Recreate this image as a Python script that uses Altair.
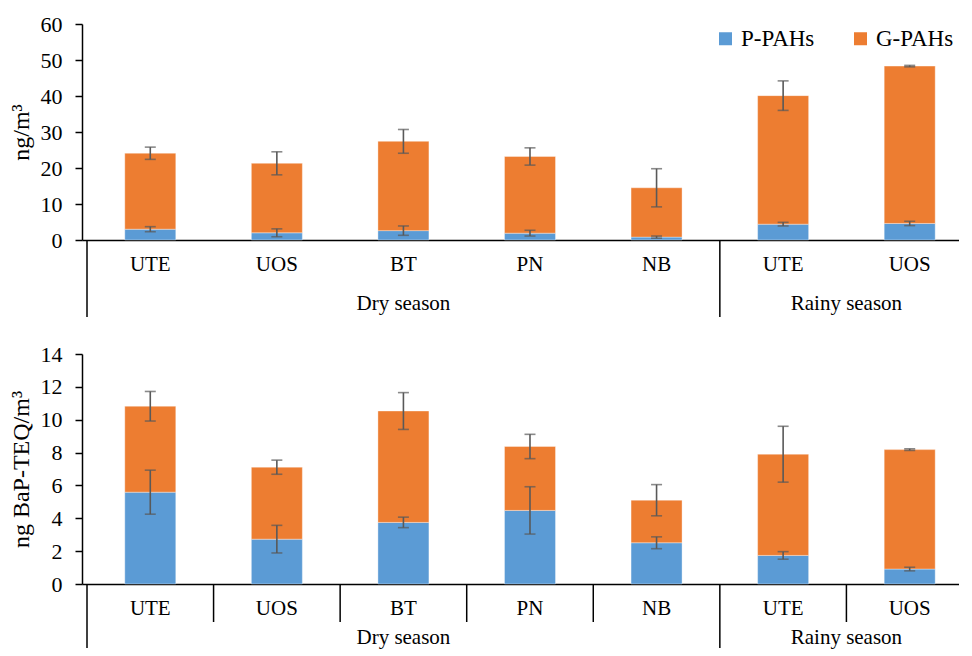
import altair as alt
import pandas as pd

# ---------------- data ----------------
sites = ["UTE", "UOS", "BT", "PN", "NB", "UTE", "UOS"]
season_names = ["Dry season", "Rainy season"]
season_first = [0, 5]      # index of first site in each season
season_count = [5, 2]      # number of sites in each season
series = ["P-PAHs", "G-PAHs"]

# top panel: concentration (ng/m3)
conc_p = [3.0, 2.0, 2.6, 1.9, 0.8, 4.4, 4.6]
conc_g = [21.1, 19.3, 24.8, 21.3, 13.7, 35.7, 43.7]
conc_p_err = [0.7, 1.1, 1.3, 0.8, 0.3, 0.5, 0.6]
conc_g_err = [1.7, 3.2, 3.3, 2.4, 5.3, 4.1, 0.2]

# bottom panel: toxic equivalent (ng BaP-TEQ/m3)
teq_p = [5.59, 2.73, 3.75, 4.48, 2.51, 1.74, 0.91]
teq_g = [5.23, 4.38, 6.78, 3.89, 2.59, 6.16, 7.27]
teq_p_err = [1.34, 0.84, 0.32, 1.44, 0.36, 0.23, 0.11]
teq_g_err = [0.90, 0.43, 1.12, 0.74, 0.95, 1.70, 0.05]

BLUE = "#5B9BD5"
ORANGE = "#ED7D31"
ERR = "#595959"
FONT = "Times New Roman, Liberation Serif, serif"
X_DOMAIN = [0, 6.85]
PLOT_W = 877


def panel(p, g, perr, gerr, ytitle, ymax, ystep, height, legend, inner_sep):
    n = len(sites)
    pos = [i + 0.5 for i in range(n)]
    rows = []
    for i in range(n):
        rows.append({"pos": pos[i], "series": series[0], "y0": 0.0, "y1": p[i]})
        rows.append({"pos": pos[i], "series": series[1], "y0": p[i], "y1": p[i] + g[i]})
    bars_df = pd.DataFrame(rows)

    err_rows = []
    for i in range(n):
        c = p[i]
        err_rows.append({"pos": pos[i], "lo": c - perr[i], "hi": c + perr[i]})
        c = p[i] + g[i]
        err_rows.append({"pos": pos[i], "lo": c - gerr[i], "hi": c + gerr[i]})
    err_df = pd.DataFrame(err_rows)

    site_df = pd.DataFrame({"pos": pos, "site": sites})
    season_df = pd.DataFrame({
        "pos": [f + c / 2 for f, c in zip(season_first, season_count)],
        "season": season_names,
    })
    long_sep = pd.DataFrame({"pos": season_first})
    short_sep = pd.DataFrame({"pos": [i for i in range(1, n) if i not in season_first]})

    xs = alt.Scale(domain=X_DOMAIN, nice=False, zero=False)
    ys = alt.Scale(domain=[0, ymax], nice=False)
    xaxis = alt.Axis(title=None, labels=False, ticks=False, grid=False,
                     domain=True, domainColor="black", domainWidth=1.5)
    yaxis = alt.Axis(title=ytitle, values=list(range(0, ymax + 1, ystep)),
                     grid=False, labelOverlap=False)

    def X(field):
        return alt.X(field, scale=xs, axis=xaxis)

    def Y(field):
        return alt.Y(field, scale=ys, axis=yaxis)

    if legend:
        leg = alt.Legend(orient="none", legendX=632, legendY=3, direction="horizontal",
                         title=None, symbolType="square", symbolSize=169,
                         symbolStrokeWidth=0, labelFontSize=23, labelFont=FONT,
                         labelColor="black", columnPadding=34, labelOffset=4,
                         padding=0)
    else:
        leg = None

    bars = alt.Chart(bars_df).mark_bar(size=51, stroke="white", strokeWidth=0.6,
                                       strokeOpacity=0.6).encode(
        x=X("pos:Q"),
        y=Y("y1:Q"),
        y2="y0:Q",
        color=alt.Color("series:N", scale=alt.Scale(domain=series, range=[BLUE, ORANGE]),
                        legend=leg, sort=series),
    )

    err_rule = alt.Chart(err_df).mark_rule(color=ERR, strokeWidth=1.6).encode(
        x=X("pos:Q"), y=Y("lo:Q"), y2="hi:Q")
    err_caps = alt.Chart(err_df).transform_fold(["lo", "hi"], as_=["k", "v"]).mark_tick(
        orient="horizontal", size=11, thickness=1.6, color=ERR).encode(
        x=X("pos:Q"), y=Y("v:Q"))

    site_text = alt.Chart(site_df).mark_text(font=FONT, fontSize=21, baseline="middle",
                                             color="black").encode(
        x=X("pos:Q"), y=alt.value(height + 25), text="site:N")

    sep_long_len = 77 if legend else 64
    season_y = height + 64 if legend else height + 60
    season_text = alt.Chart(season_df).mark_text(
        font=FONT, fontSize=21, baseline="middle" if legend else "alphabetic",
        color="black").encode(
        x=X("pos:Q"), y=alt.value(season_y), text="season:N")

    long_rule = alt.Chart(long_sep).mark_rule(color="black", strokeWidth=1.5).encode(
        x=X("pos:Q"), y=alt.value(height), y2=alt.value(height + sep_long_len))

    layers = [bars, err_rule, err_caps, site_text, season_text, long_rule]
    if inner_sep:
        short_rule = alt.Chart(short_sep).mark_rule(color="black", strokeWidth=1.5).encode(
            x=X("pos:Q"), y=alt.value(height), y2=alt.value(height + 38))
        layers.append(short_rule)

    return alt.layer(*layers).properties(width=PLOT_W, height=height)


top = panel(conc_p, conc_g, conc_p_err, conc_g_err, "ng/m³", 60, 10, 216, True, False)
bottom = panel(teq_p, teq_g, teq_p_err, teq_g_err, "ng BaP-TEQ/m³", 14, 2, 230, False, True)

chart = alt.vconcat(top, bottom, spacing=114, bounds="flush").resolve_scale(
    x="independent", y="independent", color="independent"
).resolve_legend(color="independent").properties(
    padding={"left": 1, "top": 5, "right": 0, "bottom": 0}
).configure_view(stroke=None).configure_axis(
    labelFont=FONT, labelFontSize=22, labelColor="black", labelPadding=13,
    tickColor="black", tickSize=7, tickWidth=1.5,
    domainColor="black", domainWidth=1.5,
    titleFont=FONT, titleFontSize=24, titleFontWeight="normal", titleColor="black",
    titlePadding=7,
)

chart.save("out.html", embed_options={"renderer": "svg", "actions": False})
